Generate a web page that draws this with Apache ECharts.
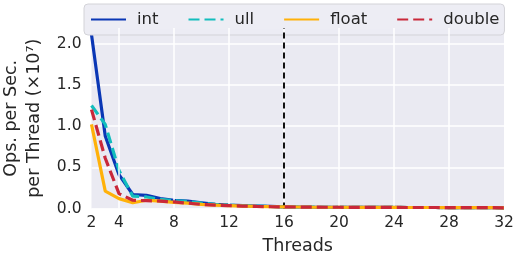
<!DOCTYPE html>
<html>
<head>
<meta charset="utf-8">
<script src="https://cdn.jsdelivr.net/npm/echarts@6/dist/echarts.min.js"></script>
<style>
  html, body { margin: 0; padding: 0; background: #fff; }
  #chart { width: 514px; height: 262px; }
</style>
</head>
<body>
<div id="chart"></div>
<script>
// threads 2..32
const threads = [];
for (let t = 2; t <= 32; t++) threads.push(t);

const intOps = [2.11, 0.88, 0.41, 0.17, 0.16, 0.12, 0.10, 0.09, 0.07, 0.05, 0.04, 0.035, 0.03, 0.025, 0.02,
  0.018, 0.016, 0.015, 0.015, 0.014, 0.014, 0.013, 0.013, 0.012, 0.012, 0.012, 0.011, 0.011, 0.01, 0.01, 0.008];
const ullOps = [1.25, 1.02, 0.46, 0.15, 0.14, 0.11, 0.095, 0.085, 0.065, 0.05, 0.04, 0.035, 0.03, 0.025, 0.02,
  0.018, 0.016, 0.015, 0.015, 0.014, 0.014, 0.013, 0.013, 0.012, 0.012, 0.012, 0.011, 0.011, 0.01, 0.01, 0.008];
const floatOps = [1.02, 0.21, 0.12, 0.07, 0.1, 0.09, 0.075, 0.065, 0.05, 0.04, 0.035, 0.03, 0.025, 0.022, 0.02,
  0.018, 0.016, 0.015, 0.015, 0.014, 0.014, 0.013, 0.013, 0.012, 0.012, 0.012, 0.011, 0.011, 0.01, 0.01, 0.008];
const doubleOps = [1.2, 0.61, 0.18, 0.1, 0.095, 0.09, 0.08, 0.065, 0.05, 0.04, 0.035, 0.03, 0.025, 0.022, 0.02,
  0.018, 0.016, 0.015, 0.015, 0.014, 0.014, 0.013, 0.013, 0.012, 0.012, 0.012, 0.011, 0.011, 0.01, 0.01, 0.008];

const gridX = [4, 8, 12, 16, 20, 24, 28];
const markedThread = 16;

const textColor = '#262626';
const font = 'DejaVu Sans';

function pairs(vals) {
  return threads.map((t, i) => [t, vals[i]]);
}

const chart = echarts.init(document.getElementById('chart'));
chart.setOption({
  animation: false,
  textStyle: { fontFamily: font },
  grid: {
    left: 91.5, right: 10, top: 28, bottom: 53.5,
    outerBoundsMode: 'none',
    show: true, backgroundColor: '#eaeaf2', borderWidth: 0
  },
  legend: {
    left: 84, top: 4, width: 500,
    padding: [7, 5, 7, 6],
    itemGap: 29,
    itemWidth: 35, itemHeight: 14,
    itemStyle: { opacity: 0 },
    backgroundColor: 'rgba(236,236,243,0.95)',
    borderColor: '#d3d3d8', borderWidth: 1, borderRadius: 4,
    textStyle: { fontSize: 16.5, color: textColor, fontFamily: font, padding: [0, 0, 0, 6] },
    data: ['int', 'ull', 'float', 'double']
  },
  xAxis: {
    type: 'value', min: 2, max: 32, interval: 2,
    axisLine: { show: false }, axisTick: { show: false },
    splitLine: { show: false },
    axisLabel: {
      fontSize: 15.5, color: textColor, margin: 6,
      formatter: v => (v === 2 || v % 4 === 0) ? String(v) : ''
    },
    name: 'Threads', nameLocation: 'middle', nameGap: 29,
    nameTextStyle: { fontSize: 17.5, color: textColor }
  },
  yAxis: {
    type: 'value', min: 0, max: 2.19, interval: 0.5,
    axisLine: { show: false }, axisTick: { show: false },
    splitLine: { lineStyle: { color: '#ffffff', width: 1.5 } },
    axisLabel: {
      fontSize: 15.5, color: textColor, margin: 10, showMaxLabel: false,
      formatter: v => v.toFixed(1)
    },
    name: 'Ops. per Sec.\nper Thread (×10⁷)', nameLocation: 'middle', nameGap: 33,
    nameRotate: 90,
    nameTextStyle: { fontSize: 17.5, color: textColor, lineHeight: 23 }
  },
  series: [
    {
      name: 'gridlines', type: 'line', data: [], silent: true,
      markLine: {
        silent: true, symbol: 'none', label: { show: false },
        lineStyle: { color: '#ffffff', width: 1.5, type: 'solid' },
        data: gridX.map(x => ({ xAxis: x }))
      }
    },
    {
      name: 'int', type: 'line', data: pairs(intOps), symbol: 'none',
      lineStyle: { color: '#0a37b5', width: 3.2 }, itemStyle: { color: '#0a37b5' }, z: 3
    },
    {
      name: 'ull', type: 'line', data: pairs(ullOps), symbol: 'none',
      lineStyle: { color: '#13bdbd', width: 3.2, type: [11, 5] }, itemStyle: { color: '#13bdbd' }, z: 4
    },
    {
      name: 'float', type: 'line', data: pairs(floatOps), symbol: 'none',
      lineStyle: { color: '#ffb10a', width: 3.2 }, itemStyle: { color: '#ffb10a' }, z: 5
    },
    {
      name: 'double', type: 'line', data: pairs(doubleOps), symbol: 'none',
      lineStyle: { color: '#c9283a', width: 3.2, type: [11, 5] }, itemStyle: { color: '#c9283a' }, z: 6,
      markLine: {
        silent: true, symbol: 'none', label: { show: false },
        lineStyle: { color: '#111111', width: 2, type: [6, 4] },
        data: [{ xAxis: markedThread }]
      }
    }
  ]
});
</script>
</body>
</html>
